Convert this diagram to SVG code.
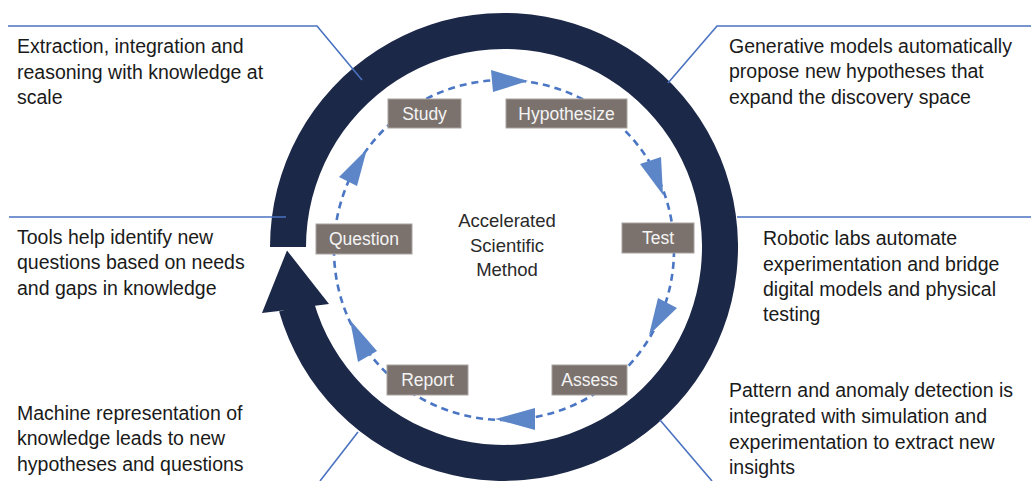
<svg xmlns="http://www.w3.org/2000/svg" width="1031" height="481" viewBox="0 0 1031 481">
  <style>
    .ring { fill: #1c2848; }
    .cycle { fill: none; stroke: #4a76c4; stroke-width: 2.6; stroke-dasharray: 7 5; }
    .head { fill: #5d86c9; }
    .link { fill: none; stroke: #4a72c0; stroke-width: 1.6; }
    .box { fill: #7b726e; stroke: #a8a29e; stroke-width: 1; }
    .label { font-family: "Liberation Sans", Arial, sans-serif; font-size: 17.5px; fill: #f4f4f4; text-anchor: middle; }
    .note { font-family: "Liberation Sans", Arial, sans-serif; font-size: 19.5px; fill: #1a1a1a; }
    .title { font-family: "Liberation Sans", Arial, sans-serif; font-size: 18.5px; fill: #2a2a2a; text-anchor: middle; }
  </style>

  <rect width="1031" height="481" fill="#ffffff"/>

  <!-- big outer cycle arrow -->
  <g id="outer-cycle">
    <path class="ring" d="M 279.1,311.5 A 234 234 0 1 0 270,247 L 306,247 A 198 198 0 1 1 313.7,301.6 Z"/>
    <polygon class="ring" points="287,250.5 329,304 313,306 279,311 262,313"/>
  </g>

  <!-- callout connectors -->
  <g id="connectors">
    <polyline class="link" points="8,26 317,26 362,80"/>
    <polyline class="link" points="668,83 717,26 1031,26"/>
    <line class="link" x1="9" y1="217" x2="286" y2="217"/>
    <line class="link" x1="737" y1="217" x2="1031" y2="217"/>
    <line class="link" x1="358" y1="432" x2="320" y2="481"/>
    <line class="link" x1="660" y1="420" x2="712" y2="481"/>
  </g>

  <!-- inner dashed cycle with direction heads -->
  <g id="inner-cycle">
    <circle class="cycle" cx="504" cy="250" r="170"/>
    <polygon class="head" points="528,81 491,70 493,92"/>
    <polygon class="head" points="663,195 640,164 661,157"/>
    <polygon class="head" points="649,335 658,298 677,308"/>
    <polygon class="head" points="495,419 535,408 535,430"/>
    <polygon class="head" points="350,320 358,362 377,351"/>
    <polygon class="head" points="367,149 339,177 357,186"/>
  </g>

  <g id="node-study">
    <rect class="box" x="388" y="99" width="73" height="29"/>
    <text class="label" x="424.5" y="119.5">Study</text>
  </g>
  <g id="node-hypothesize">
    <rect class="box" x="506" y="99" width="121" height="29"/>
    <text class="label" x="566.5" y="119.5">Hypothesize</text>
  </g>
  <g id="node-test">
    <rect class="box" x="622" y="223" width="72" height="30"/>
    <text class="label" x="658" y="244">Test</text>
  </g>
  <g id="node-assess">
    <rect class="box" x="552" y="365" width="75" height="30"/>
    <text class="label" x="589.5" y="386">Assess</text>
  </g>
  <g id="node-report">
    <rect class="box" x="387" y="365" width="81" height="30"/>
    <text class="label" x="427.5" y="386">Report</text>
  </g>
  <g id="node-question">
    <rect class="box" x="316" y="224" width="96" height="30"/>
    <text class="label" x="364" y="245">Question</text>
  </g>

  <g id="center-title">
    <text class="title" x="507" y="227">Accelerated</text>
    <text class="title" x="507" y="251.5">Scientific</text>
    <text class="title" x="507" y="276">Method</text>
  </g>

  <g id="note-knowledge">
    <text class="note" x="17" y="53">Extraction, integration and</text>
    <text class="note" x="17" y="78.5">reasoning with knowledge at</text>
    <text class="note" x="17" y="104">scale</text>
  </g>
  <g id="note-generative">
    <text class="note" x="729" y="52.5">Generative models automatically</text>
    <text class="note" x="729" y="78">propose new hypotheses that</text>
    <text class="note" x="729" y="103.5">expand the discovery space</text>
  </g>
  <g id="note-questions">
    <text class="note" x="17" y="243.5">Tools help identify new</text>
    <text class="note" x="17" y="269">questions based on needs</text>
    <text class="note" x="17" y="295">and gaps in knowledge</text>
  </g>
  <g id="note-robotic">
    <text class="note" x="763" y="245">Robotic labs automate</text>
    <text class="note" x="763" y="270.5">experimentation and bridge</text>
    <text class="note" x="763" y="295.5">digital models and physical</text>
    <text class="note" x="763" y="320.5">testing</text>
  </g>
  <g id="note-representation">
    <text class="note" x="17" y="420">Machine representation of</text>
    <text class="note" x="17" y="445">knowledge leads to new</text>
    <text class="note" x="17" y="470.5">hypotheses and questions</text>
  </g>
  <g id="note-patterns">
    <text class="note" x="729" y="397">Pattern and anomaly detection is</text>
    <text class="note" x="729" y="423">integrated with simulation and</text>
    <text class="note" x="729" y="448.5">experimentation to extract new</text>
    <text class="note" x="729" y="473.5">insights</text>
  </g>
</svg>
